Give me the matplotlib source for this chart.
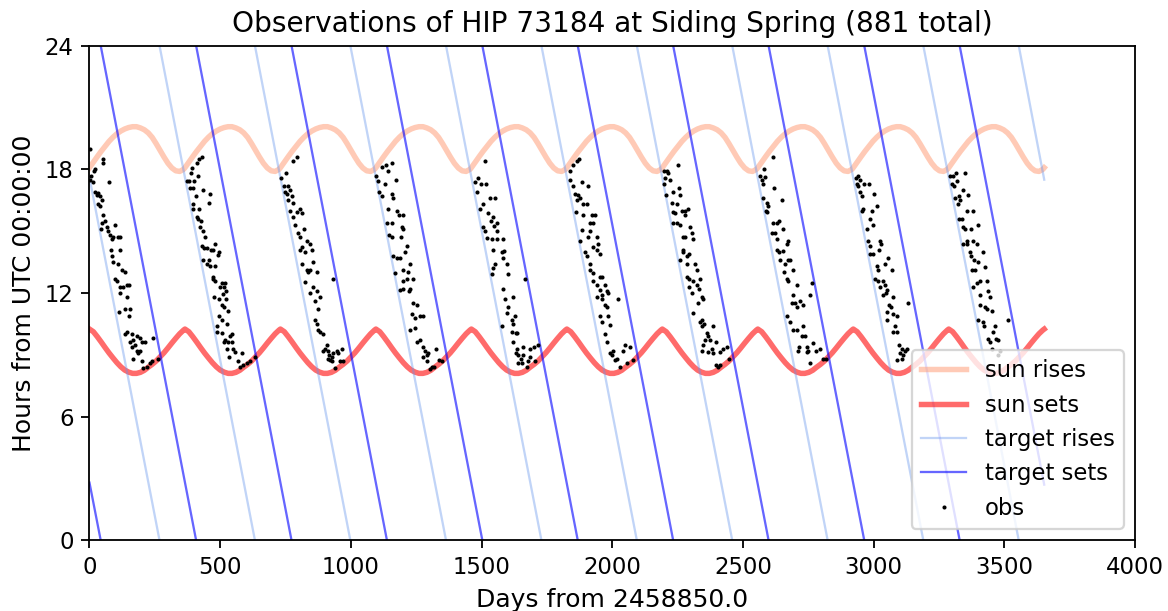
import numpy as np
import matplotlib
matplotlib.use("Agg")
import matplotlib.pyplot as plt

# 1. Sun rise / set times over one year (days into the year, hours UTC)
sun_profile_days = [0, 15, 30, 45, 60, 75, 90, 105, 120, 135, 150, 165, 180,
                    195, 210, 225, 240, 255, 270, 285, 300, 315, 330, 345, 360]
sun_rise_profile = [18.08, 18.35, 18.62, 18.88, 19.12, 19.36, 19.56, 19.73, 19.86, 19.96,
                    20.03, 20.07, 20.07, 20.01, 19.92, 19.77, 19.55, 19.25, 18.92, 18.6,
                    18.3, 18.07, 17.93, 17.9, 18.0]
sun_set_profile = [10.25, 10.12, 9.88, 9.62, 9.35, 9.09, 8.85, 8.62, 8.42, 8.26,
                   8.16, 8.1, 8.1, 8.15, 8.25, 8.4, 8.54, 8.7, 8.9, 9.1, 9.33,
                   9.57, 9.8, 10.02, 10.2]
year_starts = [0, 365.25, 730.5, 1095.75, 1461, 1826.25, 2191.5, 2556.75, 2922, 3287.25]
data_end = 3652.5

# 2. Days where the target rise / set lines wrap from 0h back to 24h
target_rise_wraps = [268, 633, 998, 1364, 1729, 2094, 2459, 2824, 3190, 3555]
target_rise_first, target_rise_last = 17.6, 17.5
target_set_wraps = [43, 408, 773, 1138, 1503, 1868, 2233, 2598, 2964, 3329]
target_set_first, target_set_last = 2.8, 2.7

# 3. Observations (day, hour), season by season
obs = [
    # season 1
    (2, 19.0), (5, 17.7), (2, 17.5), (12, 17.4), (17, 17.9), (21, 18.0), (50, 18.5), (53, 18.3),
    (76, 17.4), (21, 16.9), (27, 16.76), (34, 16.84), (40, 16.7), (47, 16.5), (34, 16.3),
    (40, 16.2), (53, 15.8), (59, 15.5), (47, 15.4), (43, 15.1), (66, 15.2), (72, 15.0),
    (78, 14.8), (91, 14.7), (98, 15.3), (85, 14.6), (110, 14.7), (117, 14.7), (81, 14.1),
    (117, 14.1), (85, 13.8), (91, 13.5), (110, 13.4), (123, 13.1), (136, 13.0), (98, 12.7),
    (104, 12.6), (117, 12.3), (129, 12.3), (142, 12.4), (152, 12.4), (117, 12.0), (142, 11.8),
    (114, 11.1), (136, 11.2), (155, 11.2), (152, 10.9), (136, 10.0), (142, 10.1), (161, 10.0),
    (155, 9.6), (168, 9.7), (180, 9.9), (193, 9.8), (200, 9.6), (212, 9.6), (174, 9.5),
    (193, 9.2), (187, 9.1), (168, 8.8), (200, 8.7), (206, 8.35), (219, 8.4), (231, 8.6),
    (238, 8.7), (263, 8.8), (244, 9.8), (161, 9.4), (180, 9.2),
    # season 2
    (429, 18.6), (420, 18.5), (410, 18.3), (391, 18.05), (387, 17.8), (382, 17.45), (374, 17.45),
    (400, 17.45), (416, 17.7), (385, 17.1), (397, 17.1), (433, 17.0), (461, 16.8), (407, 16.7),
    (458, 16.35), (397, 16.3), (395, 16.1), (420, 16.1), (413, 15.7), (416, 15.6), (425, 15.5),
    (423, 15.2), (436, 15.0), (442, 14.7), (429, 14.3), (438, 14.2), (448, 14.2), (464, 14.1),
    (471, 14.1), (480, 14.4), (497, 14.0), (493, 13.85), (436, 13.6), (458, 13.6), (451, 13.4),
    (461, 13.3), (480, 13.3), (474, 12.8), (471, 12.7), (480, 12.6), (506, 12.5), (518, 12.5),
    (515, 12.3), (499, 12.3), (522, 12.1), (512, 11.95), (476, 11.8), (497, 11.7), (522, 11.7),
    (506, 11.4), (515, 11.3), (531, 11.15), (497, 10.9), (506, 10.7), (525, 10.5), (487, 10.4),
    (487, 10.1), (506, 10.05), (544, 10.0), (538, 9.9), (518, 9.7), (515, 9.6), (531, 9.6),
    (544, 9.6), (527, 9.3), (550, 9.3), (557, 9.16), (582, 9.1), (535, 8.9), (569, 8.7),
    (577, 8.4), (589, 8.5), (601, 8.6), (614, 8.7), (633, 8.9),
    # season 3
    (795, 18.6), (780, 18.4), (752, 17.8), (733, 17.6), (744, 17.2), (761, 17.2), (767, 17.0),
    (748, 16.9), (754, 16.8), (773, 16.7), (761, 16.5), (780, 16.35), (767, 16.0), (805, 16.1),
    (793, 15.95), (812, 15.9), (780, 15.7), (786, 15.3), (821, 15.1), (799, 14.9), (805, 14.7),
    (831, 14.5), (844, 14.4), (812, 14.25), (805, 14.1), (850, 14.1), (824, 14.0), (856, 13.5),
    (831, 13.1), (844, 13.1), (837, 13.0), (869, 13.0), (812, 13.4), (824, 12.55), (856, 12.3),
    (869, 12.1), (844, 12.0), (882, 11.8), (863, 11.6), (876, 11.2), (933, 12.7), (863, 10.7),
    (872, 10.5), (882, 10.1), (894, 10.0), (875, 10.2), (907, 9.5), (901, 9.3), (914, 9.2),
    (918, 9.0), (927, 8.9), (933, 9.1), (946, 9.2), (952, 9.1), (965, 9.3), (920, 8.75),
    (927, 8.7), (939, 8.35), (958, 8.7), (971, 8.7), (914, 8.8), (894, 9.2),
    # season 4
    (1156, 18.3), (1134, 18.2), (1118, 18.1), (1143, 17.9), (1096, 17.7), (1105, 17.45),
    (1130, 17.3), (1172, 17.5), (1109, 16.9), (1118, 16.7), (1156, 16.8), (1162, 16.6),
    (1143, 16.1), (1175, 16.0), (1185, 15.8), (1201, 15.8), (1137, 15.4), (1156, 15.4),
    (1194, 15.2), (1201, 15.1), (1147, 14.8), (1156, 14.7), (1190, 14.7), (1213, 14.3),
    (1207, 14.0), (1162, 13.8), (1175, 13.7), (1188, 13.7), (1226, 13.4), (1198, 13.1),
    (1169, 12.95), (1220, 13.0), (1201, 12.6), (1213, 12.7), (1236, 12.7), (1188, 12.15),
    (1201, 12.2), (1226, 12.2), (1224, 12.1), (1239, 11.5), (1252, 11.4), (1232, 11.0),
    (1245, 10.8), (1264, 10.9), (1275, 10.9), (1226, 10.2), (1245, 10.3), (1264, 9.7),
    (1254, 9.6), (1277, 9.4), (1283, 9.2), (1296, 9.1), (1290, 9.0), (1277, 8.9), (1326, 9.3),
    (1290, 8.7), (1309, 8.4), (1303, 8.33), (1318, 8.4), (1347, 8.7), (1338, 8.75),
    # season 5
    (1513, 18.4), (1488, 17.6), (1475, 17.4), (1496, 17.3), (1517, 17.3), (1481, 16.9),
    (1532, 16.6), (1551, 16.6), (1507, 16.3), (1494, 16.1), (1526, 15.9), (1542, 15.7),
    (1535, 15.5), (1560, 15.4), (1547, 15.25), (1507, 15.2), (1513, 15.0), (1558, 15.0),
    (1519, 14.65), (1539, 14.6), (1558, 14.6), (1581, 14.6), (1545, 14.1), (1577, 14.0),
    (1586, 14.05), (1551, 13.4), (1545, 13.2), (1581, 13.7), (1596, 13.4), (1539, 12.9),
    (1602, 12.9), (1666, 12.7), (1581, 12.2), (1590, 11.7), (1619, 11.8), (1602, 11.3),
    (1596, 11.05), (1628, 10.9), (1615, 10.7), (1621, 10.5), (1577, 10.4), (1615, 10.1),
    (1632, 10.05), (1637, 10.05), (1621, 9.6), (1634, 9.3), (1660, 9.4), (1685, 9.3),
    (1700, 9.4), (1717, 9.5), (1632, 9.1), (1641, 9.0), (1657, 9.0), (1649, 8.8), (1685, 8.9),
    (1653, 8.6), (1672, 8.4), (1679, 8.7), (1704, 8.7), (1641, 8.6),
    # season 6
    (1874, 18.5), (1864, 18.4), (1851, 18.2), (1838, 17.9), (1838, 17.5), (1851, 17.2),
    (1883, 17.4), (1908, 17.2), (1857, 16.8), (1870, 16.75), (1864, 16.5), (1876, 16.6),
    (1887, 16.3), (1902, 16.3), (1861, 15.95), (1889, 15.8), (1921, 15.8), (1934, 15.8),
    (1915, 15.4), (1927, 15.4), (1883, 15.06), (1915, 15.0), (1908, 14.7), (1940, 14.7),
    (1876, 14.5), (1947, 14.4), (1927, 14.25), (1943, 14.1), (1896, 14.0), (1902, 13.8),
    (1953, 13.9), (1915, 13.4), (1915, 13.1), (1927, 12.95), (1953, 12.8), (1959, 12.8),
    (1972, 12.4), (1940, 12.4), (1927, 12.6), (1953, 12.15), (1978, 12.1), (1959, 11.9),
    (1940, 11.8), (1985, 12.0), (2023, 11.7), (1959, 11.7), (1972, 11.4), (1981, 11.3),
    (1953, 10.9), (1985, 10.9), (1959, 10.6), (1991, 10.45), (1972, 10.0), (1978, 9.6),
    (1991, 9.1), (2004, 9.2), (2017, 8.8), (2049, 9.5), (2068, 9.4), (2042, 9.2), (2029, 8.4),
    (2055, 8.6), (2080, 8.75), (1998, 9.0), (2010, 8.75),
    # season 7
    (2198, 17.9), (2208, 17.9), (2214, 17.8), (2202, 17.6), (2221, 17.5), (2198, 17.3),
    (2253, 18.2), (2205, 16.75), (2234, 16.9), (2259, 16.75), (2256, 17.1), (2227, 16.35),
    (2246, 16.3), (2234, 15.95), (2240, 15.9), (2265, 16.0), (2278, 16.0), (2291, 16.1),
    (2278, 15.8), (2234, 15.4), (2249, 15.4), (2259, 15.3), (2297, 15.2), (2304, 14.9),
    (2269, 14.7), (2278, 14.7), (2307, 14.6), (2269, 14.1), (2272, 14.0), (2285, 13.8),
    (2295, 13.9), (2259, 13.6), (2316, 13.4), (2285, 13.4), (2323, 13.1), (2336, 12.7),
    (2285, 12.8), (2295, 12.7), (2307, 12.6), (2325, 12.4), (2333, 12.2), (2295, 12.3),
    (2304, 12.0), (2342, 11.8), (2329, 11.5), (2348, 11.7), (2310, 11.05), (2336, 10.6),
    (2342, 10.7), (2351, 10.5), (2342, 10.4), (2384, 10.4), (2361, 10.05), (2367, 9.9),
    (2355, 9.7), (2348, 9.5), (2374, 9.7), (2397, 9.6), (2342, 9.2), (2367, 9.16), (2380, 9.3),
    (2387, 9.1), (2425, 9.3), (2440, 9.4), (2412, 9.16), (2397, 8.5), (2406, 8.4), (2412, 8.5),
    (2448, 8.8),
    # season 8
    (2614, 18.6), (2580, 18.0), (2565, 17.7), (2571, 17.5), (2584, 17.65), (2578, 17.3),
    (2619, 17.1), (2648, 16.5), (2578, 16.6), (2591, 16.35), (2597, 16.2), (2588, 16.0),
    (2593, 15.95), (2616, 15.4), (2629, 15.4), (2639, 15.5), (2654, 15.1), (2610, 14.9),
    (2622, 14.9), (2631, 14.6), (2673, 14.5), (2667, 14.4), (2629, 14.1), (2639, 14.0),
    (2652, 14.05), (2673, 13.6), (2680, 13.6), (2642, 13.6), (2661, 13.4), (2690, 13.1),
    (2657, 13.0), (2667, 12.7), (2673, 12.6), (2763, 12.5), (2705, 12.4), (2690, 11.9),
    (2756, 11.9), (2686, 11.5), (2699, 11.5), (2718, 11.6), (2705, 11.3), (2728, 11.4),
    (2670, 10.9), (2680, 10.6), (2693, 10.2), (2705, 10.2), (2728, 10.4), (2724, 9.9),
    (2737, 9.9), (2716, 9.4), (2744, 9.4), (2750, 9.2), (2769, 9.56), (2795, 9.3), (2712, 9.2),
    (2744, 9.16), (2779, 9.2), (2756, 8.6), (2807, 8.8), (2818, 8.8),
    # season 9
    (2941, 17.7), (2932, 17.6), (2948, 17.5), (2935, 17.3), (2963, 17.3), (2983, 17.3),
    (2941, 17.2), (2948, 16.9), (3001, 16.8), (2954, 16.7), (2960, 16.1), (2954, 16.0),
    (2992, 16.0), (2986, 15.6), (3011, 16.2), (2973, 15.1), (2999, 15.3), (2980, 14.5),
    (2986, 14.3), (3024, 14.5), (3027, 14.4), (3022, 14.1), (2999, 13.9), (2986, 13.9),
    (3056, 13.7), (3011, 13.3), (3018, 13.1), (3043, 13.4), (3069, 13.1), (3005, 12.7),
    (3018, 12.6), (3037, 12.6), (3043, 12.4), (3024, 12.3), (3052, 12.15), (3047, 12.0),
    (3034, 11.9), (3075, 11.8), (3060, 11.4), (3065, 11.3), (3133, 11.5), (3050, 11.1),
    (3075, 11.0), (3088, 10.9), (3050, 10.7), (3082, 10.4), (3075, 10.1), (3088, 10.1),
    (3098, 9.5), (3107, 9.3), (3101, 9.1), (3113, 9.0), (3120, 9.2), (3126, 9.3), (3107, 8.8),
    (3088, 8.75),
    # season 10
    (3292, 17.7), (3305, 17.7), (3315, 17.8), (3349, 17.8), (3298, 17.3), (3307, 17.2),
    (3320, 17.45), (3340, 17.0), (3311, 16.6), (3328, 16.7), (3330, 16.5), (3324, 16.3),
    (3362, 16.75), (3356, 16.0), (3381, 16.0), (3328, 15.6), (3337, 15.6), (3343, 15.2),
    (3349, 15.1), (3371, 15.1), (3400, 15.3), (3343, 14.4), (3356, 14.5), (3356, 14.4),
    (3381, 14.5), (3394, 14.4), (3368, 14.0), (3371, 13.8), (3384, 13.6), (3400, 13.5),
    (3417, 14.0), (3375, 13.1), (3387, 13.1), (3426, 13.25), (3381, 12.3), (3394, 12.5),
    (3407, 12.6), (3432, 12.6), (3407, 11.9), (3438, 12.1), (3445, 11.8), (3407, 11.4),
    (3426, 11.3), (3432, 11.2), (3451, 11.15), (3400, 10.7), (3419, 10.6), (3422, 10.4),
    (3515, 10.7), (3464, 10.4), (3458, 10.1), (3438, 9.75), (3445, 9.6), (3468, 9.75),
    (3477, 9.7), (3451, 9.3), (3483, 9.2), (3477, 9.0),
]


def tile_year(profile):
    # same yearly curve repeated for each year of the run
    xs, ys = [], []
    for start in year_starts:
        xs += [start + d for d in sun_profile_days]
        ys += list(profile)
    xs.append(data_end)
    ys.append(profile[0])
    return xs, ys


def wrapped_line(wraps, first, last):
    # straight drift lines, broken where they jump from 0h to 24h
    xs = [0, wraps[0]]
    ys = [first, 0]
    for a, b in zip(wraps[:-1], wraps[1:]):
        xs += [np.nan, a, b]
        ys += [np.nan, 24, 0]
    xs += [np.nan, wraps[-1], data_end]
    ys += [np.nan, 24, last]
    return xs, ys


sun_rise_x, sun_rise_y = tile_year(sun_rise_profile)
sun_set_x, sun_set_y = tile_year(sun_set_profile)
t_rise_x, t_rise_y = wrapped_line(target_rise_wraps, target_rise_first, target_rise_last)
t_set_x, t_set_y = wrapped_line(target_set_wraps, target_set_first, target_set_last)
obs_days, obs_hours = np.array(obs).T

dpi = 164
fig, ax = plt.subplots(figsize=(1168 / dpi, 611 / dpi), dpi=dpi)
fig.subplots_adjust(left=0.0766, right=0.9718, bottom=0.1157, top=0.9252)

ax.plot(sun_rise_x, sun_rise_y, color='lightsalmon', alpha=0.55, lw=2.4, label='sun rises')
ax.plot(sun_set_x, sun_set_y, color='red', alpha=0.58, lw=2.4, label='sun sets')
ax.plot(t_rise_x, t_rise_y, color='cornflowerblue', alpha=0.4, lw=1.0, label='target rises')
ax.plot(t_set_x, t_set_y, color='blue', alpha=0.6, lw=1.0, label='target sets')
ax.plot(obs_days, obs_hours, 'k.', ms=3.6, mew=0, ls='none', label='obs')

ax.set_xlim(0, 4000)
ax.set_ylim(0, 24)
ax.set_yticks([0, 6, 12, 18, 24])
ax.tick_params(labelsize=10)

ax.set_xlabel('Days from 2458850.0', fontsize=11)
ax.set_ylabel('Hours from UTC 00:00:00', fontsize=11)
ax.set_title('Observations of HIP 73184 at Siding Spring (881 total)', fontsize=12.3)
ax.legend(loc='lower right', fontsize=10)

plt.savefig('out.png', dpi=dpi)
